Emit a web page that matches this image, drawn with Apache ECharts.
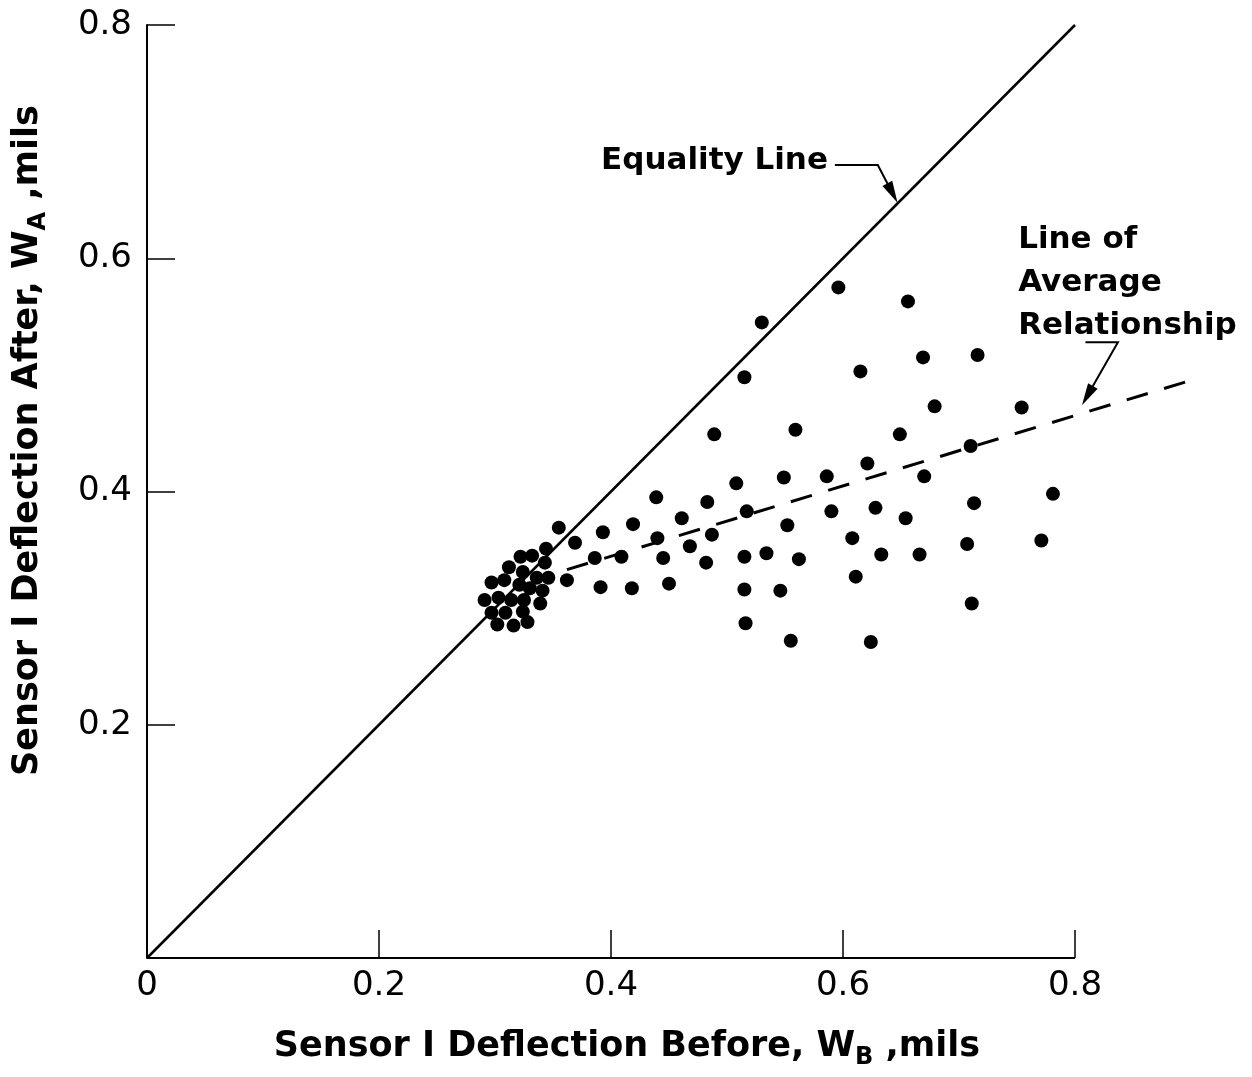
<!DOCTYPE html>
<html><head><meta charset="utf-8">
<script src="https://cdn.jsdelivr.net/npm/echarts@6/dist/echarts.min.js"></script>
<style>html,body{margin:0;padding:0;background:#fff}#c{width:1252px;height:1077px}</style>
</head><body><div id="c"></div>
<script>
// ---- data ----
const xTickValues = [0, 0.2, 0.4, 0.6, 0.8];
const yTickValues = [0.2, 0.4, 0.6, 0.8];
const deflectionBefore = [
  0.355,0.369,0.362,0.322,0.332,0.344,0.343,0.312,0.324,0.336,0.346,0.297,0.308,0.321,0.330,0.341,
  0.291,0.303,0.314,0.325,0.339,0.297,0.309,0.324,0.302,0.316,0.328,
  0.391,0.386,0.393,0.409,0.418,0.419,0.439,0.440,0.445,0.450,0.461,0.468,0.482,0.483,0.487,0.489,
  0.508,0.515,0.515,0.515,0.516,0.517,0.530,0.534,0.546,0.549,0.552,0.555,0.559,0.562,
  0.586,0.590,0.596,0.608,0.611,0.615,0.621,0.624,0.628,0.633,0.649,0.654,0.656,0.666,0.669,0.670,
  0.679,0.707,0.710,0.711,0.713,0.716,0.754,0.771,0.781
];
const deflectionAfter = [
  0.369,0.356,0.324,0.344,0.345,0.351,0.339,0.335,0.331,0.326,0.326,0.322,0.324,0.320,0.317,0.315,
  0.307,0.309,0.307,0.307,0.304,0.296,0.296,0.297,0.286,0.285,0.288,
  0.318,0.343,0.365,0.344,0.317,0.372,0.395,0.360,0.343,0.321,0.377,0.353,0.339,0.391,0.363,0.449,
  0.407,0.498,0.344,0.316,0.287,0.383,0.545,0.347,0.315,0.412,0.371,0.272,0.453,0.342,
  0.413,0.383,0.575,0.360,0.327,0.503,0.424,0.271,0.386,0.346,0.449,0.377,0.563,0.346,0.515,0.413,
  0.473,0.355,0.439,0.304,0.390,0.517,0.472,0.358,0.398
];
const equalityLineX = [0, 0.8];
const equalityLineY = [0, 0.8];
const averageLineX = [0.362, 0.899];
const averageLineY = [0.333, 0.495];
const xAxisLineX = [0, 0.8];
const xAxisLineY = [0, 0];
const equalityLabel = 'Equality Line';
const averageLabel = 'Line of\nAverage\nRelationship';
// annotation anchors in data units
const equalityLabelAnchor = [0.587, 0.683];
const equalityLeader = [[0.593, 0.680], [0.630, 0.680], [0.647, 0.6475]];
const averageLabelAnchor = [0.751, 0.634];
const averageLeader = [[0.809, 0.528], [0.837, 0.528], [0.806, 0.474]];

const FONT = 'DejaVu Sans';
const points = deflectionBefore.map((x, i) => [x, deflectionAfter[i]]);
const pair = (xs, ys) => xs.map((x, i) => [x, ys[i]]);

const titleRich = {
  n: {fontFamily: FONT, fontWeight: 'bold', fontSize: 35, color: '#000', lineHeight: 46, verticalAlign: 'middle'},
  s: {fontFamily: FONT, fontWeight: 'bold', fontSize: 24, color: '#000', lineHeight: 24, verticalAlign: 'bottom'}
};

const option = {
  backgroundColor: '#fff',
  animation: false,
  // x axis runs to 0.9 so the dashed average line can extend past 0.8; the drawn axis stops at 0.8
  grid: {left: 147, right: 61, top: 25, bottom: 119, containLabel: false, outerBoundsMode: 'none'},
  xAxis: {
    type: 'value', min: 0, max: 0.9,
    axisLine: {show: false},
    axisTick: {show: true, inside: true, length: 28, customValues: xTickValues.slice(1),
               lineStyle: {color: '#000', width: 1.5}},
    splitLine: {show: false},
    axisLabel: {
      margin: 11, color: '#000', fontFamily: FONT, fontSize: 34, customValues: xTickValues,
      formatter: v => (Math.abs(v) < 1e-9 ? '0' : v.toFixed(1))
    },
    name: '{n|Sensor I Deflection Before, W}{s|B}{n| ,mils}',
    nameLocation: 'middle', nameGap: 66,
    nameTextStyle: {rich: titleRich, padding: [0, 84, 0, 0]}
  },
  yAxis: {
    type: 'value', min: 0, max: 0.8, interval: 0.2,
    axisLine: {lineStyle: {color: '#000', width: 2}},
    axisTick: {inside: true, length: 28, lineStyle: {color: '#000', width: 1.5}},
    splitLine: {show: false},
    axisLabel: {
      margin: 15, color: '#000', fontFamily: FONT, fontSize: 34, showMinLabel: false,
      formatter: v => { const m = yTickValues.find(t => Math.abs(t - v) < 1e-9); return m !== undefined ? m.toFixed(1) : ''; }
    },
    name: '{n|Sensor I Deflection After, W}{s|A}{n| ,mils}',
    nameLocation: 'middle', nameGap: 96,
    nameTextStyle: {rich: titleRich, padding: [0, 0, 0, 102]}
  },
  series: [
    {type: 'line', data: pair(xAxisLineX, xAxisLineY), showSymbol: false, symbol: 'none', clip: false,
     lineStyle: {color: '#000', width: 2}, silent: true, z: 1},
    {type: 'line', data: pair(equalityLineX, equalityLineY), showSymbol: false, symbol: 'none',
     lineStyle: {color: '#000', width: 2.5}, silent: true, z: 2},
    {type: 'line', data: pair(averageLineX, averageLineY), showSymbol: false, symbol: 'none',
     lineStyle: {color: '#000', width: 3, type: [22, 17]}, silent: true, z: 2},
    {type: 'scatter', data: points, symbol: 'circle', symbolSize: 14,
     itemStyle: {color: '#000', opacity: 1}, z: 3}
  ]
};

const chart = echarts.init(document.getElementById('c'));
chart.setOption(option);

function px(p) { return chart.convertToPixel({gridIndex: 0}, p); }
function leaderGraphics(pts) {
  const P = pts.map(px);
  const T = P[P.length - 1], S = P[P.length - 2];
  const dx = T[0] - S[0], dy = T[1] - S[1], len = Math.hypot(dx, dy);
  const ux = dx / len, uy = dy / len, nx = -uy, ny = ux;
  const L = 22, W = 5.5;
  const base = [T[0] - L * ux, T[1] - L * uy];
  const lineEnd = [T[0] - L * 0.7 * ux, T[1] - L * 0.7 * uy];
  const linePts = P.slice(0, -1).concat([lineEnd]);
  return [
    {type: 'polyline', shape: {points: linePts}, style: {stroke: '#000', lineWidth: 2, fill: null}, z: 10},
    {type: 'polygon', shape: {points: [T, [base[0] + W * nx, base[1] + W * ny], [base[0] - W * nx, base[1] - W * ny]]},
     style: {fill: '#000'}, z: 10}
  ];
}
const eqA = px(equalityLabelAnchor);
const avA = px(averageLabelAnchor);
const annFont = 'bold 31px "' + FONT + '"';
chart.setOption({
  graphic: [
    {type: 'text', x: eqA[0], y: eqA[1], z: 10,
     style: {text: equalityLabel, font: annFont, fill: '#000', align: 'right', verticalAlign: 'middle'}},
    {type: 'text', x: avA[0], y: avA[1], z: 10,
     style: {text: averageLabel, font: annFont, fill: '#000', align: 'left', verticalAlign: 'top', lineHeight: 43}},
    ...leaderGraphics(equalityLeader),
    ...leaderGraphics(averageLeader)
  ]
});
</script>
</body></html>
